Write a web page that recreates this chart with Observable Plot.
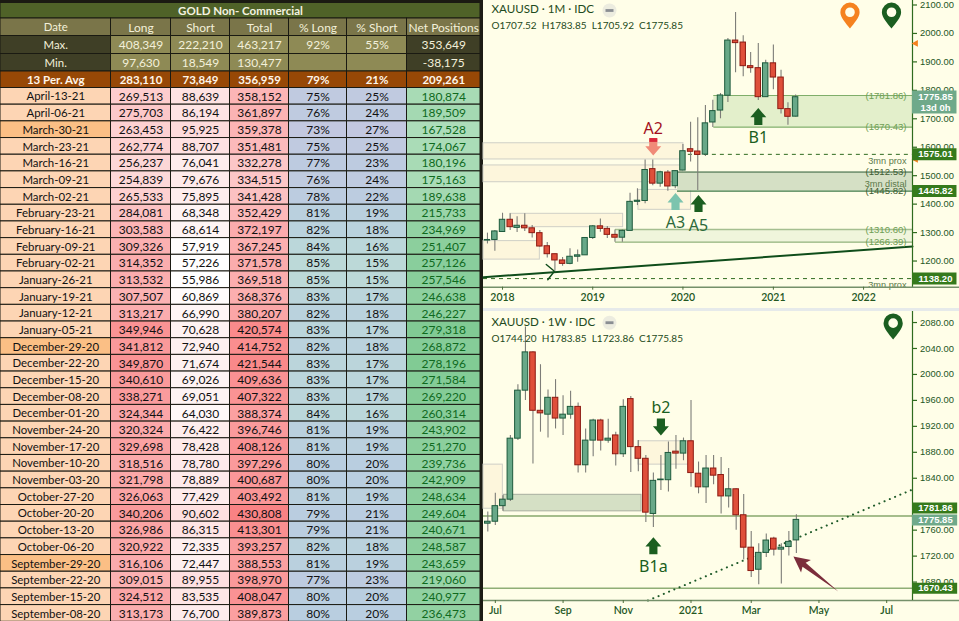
<!DOCTYPE html>
<html><head><meta charset="utf-8">
<script src="https://cdn.jsdelivr.net/npm/d3@7"></script>
<script src="https://cdn.jsdelivr.net/npm/@observablehq/plot@0.6"></script>
<style>
html,body{margin:0;padding:0;background:#fffee8;overflow:hidden;width:959px;height:621px}
.p{position:absolute}
.p svg{display:block}
</style></head><body>
<div id="table" class="p" style="left:0;top:0"></div>
<div class="p" style="left:480px;top:0;width:3px;height:621px;background:#1c1c14"></div>
<div id="monthly" class="p" style="left:483px;top:0"></div>
<div class="p" style="left:483px;top:308px;width:476px;height:3px;background:#e6eaea"></div>
<div id="weekly" class="p" style="left:483px;top:311px"></div>
<script>
// ---------- table data ----------
const tableTitle = "GOLD Non- Commercial";
const headers = ["Date","Long","Short","Total","% Long","% Short","Net Positions"];
const maxRow = ["Max.","408,349","222,210","463,217","92%","55%","353,649"];
const minRow = ["Min.","97,630","18,549","130,477","","","-38,175"];
const avgRow = ["13 Per. Avg","283,110","73,849","356,959","79%","21%","209,261"];
const dates = ["April-13-21","April-06-21","March-30-21","March-23-21","March-16-21","March-09-21","March-02-21","February-23-21","February-16-21","February-09-21","February-02-21","January-26-21","January-19-21","January-12-21","January-05-21","December-29-20","December-22-20","December-15-20","December-08-20","December-01-20","November-24-20","November-17-20","November-10-20","November-03-20","October-27-20","October-20-20","October-13-20","October-06-20","September-29-20","September-22-20","September-15-20","September-08-20"];
const longs = [269513,275703,263453,262774,256237,254839,265533,284081,303583,309326,314352,313532,307507,313217,349946,341812,349870,340610,338271,324344,320324,329698,318516,321798,326063,340206,326986,320922,316106,309015,324512,313173];
const shorts = [88639,86194,95925,88707,76041,79676,75895,68348,68614,57919,57226,55986,60869,66990,70628,72940,71674,69026,69051,64030,76422,78428,78780,78889,77429,90602,86315,72335,72447,89955,83535,76700];
const totals = [358152,361897,359378,351481,332278,334515,341428,352429,372197,367245,371578,369518,368376,380207,420574,414752,421544,409636,407322,388374,396746,408126,397296,400687,403492,430808,413301,393257,388553,398970,408047,389873];
const pctLong = [75,76,73,75,77,76,78,81,82,84,85,85,83,82,83,82,83,83,83,84,81,81,80,80,81,79,79,82,81,77,80,80];
const pctShort = [25,24,27,25,23,24,22,19,18,16,15,15,17,18,17,18,17,17,17,16,19,19,20,20,19,21,21,18,19,23,20,20];
const nets = [180874,189509,167528,174067,180196,175163,189638,215733,234969,251407,257126,257546,246638,246227,279318,268872,278196,271584,269220,260314,243902,251270,239736,242909,248634,249604,240671,248587,243659,219060,240977,236473];
const quarterEnds = ["March-30-21","December-29-20","September-29-20"];

// ---------- candles ----------
const monthlyDates = ["2017-11-01","2017-12-01","2018-01-01","2018-02-01","2018-03-01","2018-04-01","2018-05-01","2018-06-01","2018-07-01","2018-08-01","2018-09-01","2018-10-01","2018-11-01","2018-12-01","2019-01-01","2019-02-01","2019-03-01","2019-04-01","2019-05-01","2019-06-01","2019-07-01","2019-08-01","2019-09-01","2019-10-01","2019-11-01","2019-12-01","2020-01-01","2020-02-01","2020-03-01","2020-04-01","2020-05-01","2020-06-01","2020-07-01","2020-08-01","2020-09-01","2020-10-01","2020-11-01","2020-12-01","2021-01-01","2021-02-01","2021-03-01","2021-04-01"];
const monthlyOpen = [1272,1274,1302,1345,1316.5,1324,1315,1298,1252,1224,1202,1190,1215,1220,1281,1322,1313,1292,1282,1306,1408,1411,1523,1472,1511,1463,1518,1593,1585,1574,1687,1729,1781,1975,1968,1885,1878,1776,1895,1845,1734,1707.52];
const monthlyHigh = [1298,1307,1368,1366,1356,1366,1325,1307,1265,1224,1212,1243,1239,1282,1325,1348,1321,1309,1309,1438,1454,1555,1555,1516,1518,1518,1610,1688,1704,1747,1765,1789,1982,2074,1992,1933,1965,1906,1959,1871,1756,1783.85];
const monthlyLow = [1260,1234.5,1302,1307,1300,1304,1281,1248,1211,1164,1182,1187,1196,1220,1276,1301,1279,1266,1266,1306,1395,1401,1465,1459,1445,1454,1518,1548,1448,1567,1669,1700,1757,1862,1848,1860,1764,1775,1802,1717,1677,1705.92];
const monthlyClose = [1274,1304,1345,1319,1324,1315,1298,1251,1224,1202,1190,1215,1220,1281,1322,1313,1292,1282,1306,1408,1412,1520,1472,1512,1462,1516,1586,1584,1573,1684,1727,1782,1975,1966,1885,1878,1776,1895,1845,1734,1707,1775.85];

const weeklyDates = ["2020-06-29","2020-07-06","2020-07-13","2020-07-20","2020-07-27","2020-08-03","2020-08-10","2020-08-17","2020-08-24","2020-08-31","2020-09-07","2020-09-14","2020-09-21","2020-09-28","2020-10-05","2020-10-12","2020-10-19","2020-10-26","2020-11-02","2020-11-09","2020-11-16","2020-11-23","2020-11-30","2020-12-07","2020-12-14","2020-12-21","2020-12-28","2021-01-04","2021-01-11","2021-01-18","2021-01-25","2021-02-01","2021-02-08","2021-02-15","2021-02-22","2021-03-01","2021-03-08","2021-03-15","2021-03-22","2021-03-29","2021-04-05","2021-04-12"];
const weeklyOpen = [1770,1773,1797,1807,1901,1975,2034,1944,1938,1964,1932,1938,1950,1860,1898,1929,1898,1906,1877,1962,1888,1870,1785,1837,1837,1881,1878,1897,1847,1826,1855,1845,1812,1823,1783,1733,1699,1725,1747,1730,1734,1744.20];
const weeklyHigh = [1788,1817,1813,1906,1984,2073,2035,2015,1976,1992,1967,1974,1956,1916,1931,1931,1931,1911,1961,1966,1898,1875,1848,1875,1896,1906,1902,1960,1865,1875,1875,1872,1855,1824,1815,1758,1739,1754,1749,1739,1758,1783.85];
const weeklyLow = [1757,1767,1789,1804,1898,1960,1862,1911,1902,1916,1906,1931,1848,1848,1873,1882,1894,1859,1872,1849,1850,1772,1764,1821,1819,1854,1867,1826,1816,1801,1830,1785,1794,1760,1714,1687,1676,1718,1720,1677,1720,1723.86];
const weeklyClose = [1773,1797,1807,1901,1975,2034,1944,1940,1964,1932,1938,1950,1860,1898,1929,1898,1901,1877,1950,1888,1870,1787,1836,1838,1879,1878,1897,1848,1826,1855,1844,1812,1823,1783,1733,1697,1725,1744,1730,1733,1742,1775.85];

const monthlyPriceTicks = [1200,1300,1400,1500,1600,1700,1800,1900,2000,2100];
const weeklyPriceTicks = [1680,1720,1760,1840,1880,1920,1960,2000,2040,2080];
const monthlyTimeTicks = ["2018-01-01","2019-01-01","2020-01-01","2021-01-01","2022-01-01"];
const monthlyTimeLabels = ["2018","2019","2020","2021","2022"];
const weeklyTimeTicks = ["2020-07-06","2020-09-07","2020-11-02","2021-01-04","2021-03-01","2021-05-03","2021-07-05"];
const weeklyTimeLabels = ["Jul","Sep","Nov","2021","Mar","May","Jul"];

// ---------- palette ----------
const BG="#fffee8", GREEN_TXT="#24571f", AXIS="#2f6b1f", WICK="#7d7d78";
const UP="#68a888", UP_EDGE="#1d5a3c", DOWN="#df4f3a", DOWN_EDGE="#8c1a12";
const BEIGE="#fdf6dc", BEIGE_EDGE="#cfcfc6";
const TAG="#357a1c", TAG_NOW="#6fa98a";
const FONT="Lato, 'Liberation Sans', sans-serif";

// ---------- table ----------
const colWidths=[110.5,60,59,59,58,60,73.5];
const colEdges=d3.cumsum([0,...colWidths]);
const TOP=[[2.5,18],[18,35.5],[35.5,53.5],[53.5,71],[71,87.5]];
const ROW=16.68, ROW0=87.5;
const cells=[];
function add(col,y1,y2,text,fill,color,weight){cells.push({col,x1:colEdges[col],x2:colEdges[col+1],y1,y2,text,fill,color,weight:weight||400});}
cells.push({col:9,x1:0,x2:480,y1:TOP[0][0],y2:TOP[0][1],text:tableTitle,fill:"#4f6228",color:"#f4f2e0",weight:700});
headers.forEach((t,c)=>add(c,...TOP[1],t,"#7a7549","#f3f0da"));
const band=(c)=>(c===0||c===6)?"#3f3f26":"#8e8a55";
maxRow.forEach((t,c)=>add(c,...TOP[2],t,band(c),"#f3f0da"));
minRow.forEach((t,c)=>add(c,...TOP[3],t,band(c),"#f3f0da"));
avgRow.forEach((t,c)=>add(c,...TOP[4],t,"#974806","#fff6ea",700));
const redScale=(a,b)=>d3.scaleLinear().domain([a,b]).range(["#ffffff","#f8696b"]).clamp(true);
const cLong=redScale(200000,408349), cShort=redScale(55986,222210), cTotal=redScale(253000,467000);
const cPct=d3.scaleLinear().domain([73,80,85]).range(["#c3c8e0","#b9cee0","#bcd9d8"]).clamp(true);
const cNet=d3.scaleLinear().domain([-38175,353649]).range(["#ffffff","#63be7b"]);
const fmt=d3.format(",");
dates.forEach((d,i)=>{
  const y1=ROW0+i*ROW,y2=y1+ROW;
  add(0,y1,y2,d,quarterEnds.includes(d)?"#fbbf85":"#fdd5b4","#111");
  add(1,y1,y2,fmt(longs[i]),cLong(longs[i]),"#111");
  add(2,y1,y2,fmt(shorts[i]),cShort(shorts[i]),"#111");
  add(3,y1,y2,fmt(totals[i]),cTotal(totals[i]),"#111");
  add(4,y1,y2,pctLong[i]+"%",cPct(pctLong[i]),"#111");
  add(5,y1,y2,pctShort[i]+"%",cPct(pctLong[i]),"#111");
  add(6,y1,y2,fmt(nets[i]),cNet(nets[i]),"#0f6a1e");
});
document.getElementById("table").append(Plot.plot({
  width:480,height:621,margin:0,
  x:{domain:[0,480],range:[0,480],axis:null},
  y:{domain:[0,621],range:[0,621],axis:null},
  color:{type:"identity"},
  style:{background:"#1a1a12",fontFamily:FONT},
  marks:[
    Plot.rect(cells,{x1:"x1",x2:"x2",y1:"y1",y2:"y2",fill:"fill",stroke:"#1a1a12",strokeWidth:1}),
    Plot.text(cells.filter(c=>c.weight===400&&c.col!==0),{x:d=>(d.x1+d.x2)/2,y:d=>(d.y1+d.y2)/2+.5,text:"text",fill:"color",fontSize:12,fontWeight:400}),
    Plot.text(cells.filter(c=>c.weight===400&&c.col===0),{x:d=>(d.x1+d.x2)/2,y:d=>(d.y1+d.y2)/2+.5,text:"text",fill:"color",fontSize:11.4,fontWeight:400}),
    Plot.text(cells.filter(c=>c.weight===700),{x:d=>(d.x1+d.x2)/2,y:d=>(d.y1+d.y2)/2+.5,text:"text",fill:"color",fontSize:11.5,fontWeight:700})
  ]
}));

// ---------- chart helpers ----------
const D=s=>new Date(s+"T00:00:00Z");
const addDays=(d,n)=>new Date(+d+n*864e5);
const blockArrow={draw(c,l){const h=l/2,w=l*.47,s=l*.24,n=l*.05;c.moveTo(0,-h);c.lineTo(w,n);c.lineTo(s,n);c.lineTo(s,h);c.lineTo(-s,h);c.lineTo(-s,n);c.lineTo(-w,n);c.closePath();}};
const pin={draw(c,l){const r=l*.37,cy=-l+r;c.moveTo(0,0);c.bezierCurveTo(-r*.45,-l*.22,-r,cy+r*.55,-r,cy);c.arc(0,cy,r,Math.PI,0);c.bezierCurveTo(r,cy+r*.55,r*.45,-l*.22,0,0);c.closePath();c.moveTo(r*.5,cy);c.arc(0,cy,r*.5,0,-2*Math.PI,true);c.closePath();}};
const taper={draw(c,l){const head=l*.28,w=l*.14;c.moveTo(0,-l);c.lineTo(w,-l+head);c.lineTo(l*.045,-l+head*.85);c.lineTo(0,0);c.lineTo(-l*.045,-l+head*.85);c.lineTo(-w,-l+head);c.closePath();}};
const flag={draw(c,l){c.moveTo(-l,0);c.lineTo(l*.6,-l*.85);c.lineTo(l*.6,l*.85);c.closePath();}};
const bar={draw(c,l){c.rect(-l/2,-1.4,l,2.8);}};
const arrow=(date,price,color,rot=0,len=17)=>Plot.vector([{date:D(date),price}],{x:"date",y:"price",anchor:"start",length:len,rotate:rot,shape:blockArrow,fill:color,stroke:"none"});
const pinMark=(date,price,color,len=26)=>Plot.vector([{date:D(date),price}],{x:"date",y:"price",anchor:"start",length:len,rotate:0,shape:pin,fill:color,stroke:"none"});
const label=(date,price,text,color,size=16)=>Plot.text([{date:D(date),price,text}],{x:"date",y:"price",text:"text",fill:color,fontSize:size,fontFamily:"'Noto Sans',sans-serif"});
function zone(x1,x2,top,bot,fill,stroke){return Plot.rect([{x1,x2,top,bot}],{x1:"x1",x2:"x2",y1:"bot",y2:"top",fill,stroke,strokeWidth:1});}
function level(x1,x2,price,stroke,width=1,dash=null){return Plot.ruleY([{x1,x2,price}],{x1:"x1",x2:"x2",y:"price",stroke,strokeWidth:width,strokeDasharray:dash});}
function candles(ds,O,H,L,C,halfDays){
  const rows=ds.map((d,i)=>({date:D(d),o:O[i],h:H[i],l:L[i],c:C[i],up:C[i]>=O[i]}));
  const body=rows.map(r=>({...r,x1:addDays(r.date,-halfDays),x2:addDays(r.date,halfDays),y1:Math.min(r.o,r.c),y2:Math.max(r.o,r.c)}));
  return [
    Plot.ruleX(rows,{x:"date",y1:"l",y2:"h",stroke:WICK,strokeWidth:1.1}),
    Plot.rect(body.filter(b=>b.up),{x1:"x1",x2:"x2",y1:"y1",y2:"y2",fill:UP,stroke:UP_EDGE,strokeWidth:1}),
    Plot.rect(body.filter(b=>!b.up),{x1:"x1",x2:"x2",y1:"y1",y2:"y2",fill:DOWN,stroke:DOWN_EDGE,strokeWidth:1})
  ];
}
const tagFont="'Liberation Sans',sans-serif";
function tag(x,xEnd,price,text,fill,dy=0,h=12){return [
  Plot.ruleY([{x,xEnd,price}],{x1:"x",x2:"xEnd",y:"price",stroke:fill,strokeWidth:h,dy}),
  Plot.text([{x,price,text}],{x:"x",y:"price",text:"text",dx:23,dy,fill:"#fff",fontSize:9.5,fontWeight:600,fontFamily:tagFont})
];}
function header(title,ohlc,shift=0){return [
  Plot.text([title],{frameAnchor:"top-left",lineAnchor:"top",dx:8,dy:4.5+shift,text:d=>d,fill:"#1e4a20",fontSize:11.6,fontFamily:FONT,style:"letter-spacing:.1px"}),
  Plot.text([ohlc],{frameAnchor:"top-left",lineAnchor:"top",dx:8,dy:21.5+shift,text:d=>d,fill:"#1e4a20",fontSize:10,fontFamily:FONT,style:"letter-spacing:.3px"}),
  Plot.dot([title],{frameAnchor:"top-left",dx:126,dy:10+shift*.8,r:7,fill:"#ececdf",stroke:"none"}),
  Plot.vector([title],{frameAnchor:"top-left",dx:126,dy:10+shift*.8,length:8,rotate:0,anchor:"start",shape:bar,fill:"#8a8e92",stroke:"none"})
];}
function priceAxis(ticks){return Plot.axisY({anchor:"right",ticks,tickFormat:d=>d.toFixed(2),tickSize:4,tickPadding:3.5,label:null,stroke:AXIS,fill:GREEN_TXT,fontSize:9.4,strokeWidth:1.2,fontFamily:tagFont});}
function timeAxis(ticks,labels){const m=new Map(ticks.map((t,i)=>[+D(t),labels[i]]));return Plot.axisX({ticks:ticks.map(D),tickFormat:d=>m.get(+d),tickSize:3,tickPadding:3,label:null,stroke:"#4d6d3a",fill:GREEN_TXT,fontSize:10.5,fontWeight:600,fontFamily:FONT});}

// ---------- monthly chart ----------
const mStart=D("2017-10-16"), mEnd=D("2022-07-18"), mBeyond=addDays(mEnd,180), LAB_M=D("2022-06-24");
const mLight="#6f9f55", mDark="#3f5e33";
const monthlyLevels=[[1781.86,mLight],[1670.43,mLight],[1512.53,mDark],[1445.82,mDark],[1310.60,mLight],[1266.39,mLight]];
const mChart=Plot.plot({
  width:476,height:308,marginLeft:0,marginRight:47,marginTop:0,marginBottom:21.3,
  x:{type:"utc",domain:[mStart,mEnd],axis:null},
  y:{domain:[1108,2115.8],axis:null},
  style:{background:BG,fontFamily:FONT,overflow:"visible"},
  marks:[
    zone(mStart,D("2020-01-03"),1614,1557,BEIGE,BEIGE_EDGE),
    zone(mStart,D("2020-01-01"),1536,1477,BEIGE,BEIGE_EDGE),
    zone(D("2018-02-02"),D("2019-05-04"),1366,1319,BEIGE,BEIGE_EDGE),
    zone(mStart,D("2018-06-01"),1270,1205,BEIGE,BEIGE_EDGE),
    zone(D("2019-07-05"),D("2020-02-03"),1450,1380,BEIGE,BEIGE_EDGE),
    zone(D("2019-12-10"),mEnd,1512.53,1445.82,"#d5e0c5","none"),
    zone(D("2019-04-03"),mEnd,1310.60,1266.39,"#f0f5dc","none"),
    zone(D("2020-05-05"),mEnd,1781.86,1670.43,"#e3efcb","none"),
    level(D("2020-05-05"),mEnd,1781.86,"#7fae6a",1.2),
    level(D("2020-05-05"),mEnd,1670.43,"#7fae6a",1.2),
    level(D("2019-12-10"),mEnd,1512.53,"#7d9a7a",1.8),
    level(D("2019-12-10"),mEnd,1445.82,"#3f7a4a",1.4),
    level(D("2019-04-03"),mEnd,1310.60,"#a5bf90",1.5),
    level(D("2019-04-03"),mEnd,1266.39,"#8fb07a",1.2),
    level(D("2020-01-23"),mEnd,1575.01,"#2f6b1f",1,"4,4"),
    level(mStart,mEnd,1138.20,"#2f6b1f",1,"4,4"),
    Plot.line([{d:mStart,p:1143},{d:mEnd,p:1251}],{x:"d",y:"p",stroke:"#0f4d1a",strokeWidth:2}),
    Plot.line([{d:D("2018-06-27"),p:1187.6},{d:D("2018-07-30"),p:1164},{d:D("2018-07-03"),p:1134}],{x:"d",y:"p",stroke:"#0f4d1a",strokeWidth:1.4,curve:"linear"}),
    ...candles(monthlyDates,monthlyOpen,monthlyHigh,monthlyLow,monthlyClose,11),
    label("2019-09-03",1666,"A2","#a3101c"),
    arrow("2019-09-03",1600.7,"#f08a78",180),
    Plot.ruleX([{d:D("2019-09-03"),a:1617,b:1630.6}],{x:"d",y1:"a",y2:"b",stroke:"#d9283a",strokeWidth:8}),
    label("2019-12-02",1333,"A3","#2d6a3a"),
    arrow("2019-12-02",1409,"#7cc4ae"),
    label("2020-03-04",1325,"A5","#2d6a3a"),
    arrow("2020-03-04",1402,"#1b5e20"),
    label("2020-11-01",1634,"B1","#1b5e20"),
    arrow("2020-11-01",1708,"#1b5e20"),
    pinMark("2021-11-07",2017,"#f5821f"),
    pinMark("2022-04-24",2017,"#1b5e20"),
    Plot.text(monthlyLevels,{x:()=>LAB_M,y:d=>d[0],text:d=>"("+d[0].toFixed(2)+")",fill:d=>d[1],textAnchor:"end",fontSize:9.6,fontFamily:tagFont}),
    Plot.text([{p:1550,t:"3mn prox"},{p:1472,t:"3mn distal"},{p:1114,t:"3mn prox"}],{x:()=>LAB_M,y:"p",text:"t",textAnchor:"end",fill:"#5c7a4a",fontSize:9.2,fontFamily:tagFont}),
    ...header("XAUUSD · 1M · IDC","O1707.52  H1783.85  L1705.92  C1775.85"),
    Plot.ruleY([{x1:mStart,x2:addDays(mBeyond,20),p:1108}],{x1:"x1",x2:"x2",y:"p",stroke:"#75906a",strokeWidth:1.5}),
    Plot.ruleX([mEnd],{stroke:AXIS,strokeWidth:1.2}),
    priceAxis(monthlyPriceTicks),
    timeAxis(monthlyTimeTicks,monthlyTimeLabels),
    Plot.vector([{d:mEnd,p:1965},{d:mEnd,p:1557}],{x:"d",y:"p",length:4,anchor:"start",shape:flag,fill:"#f5821f",stroke:"none",dx:3}),
    Plot.ruleY([{x:mEnd,xEnd:mBeyond,p:1759}],{x1:"x",x2:"xEnd",y:"p",stroke:TAG_NOW,strokeWidth:23}),
    Plot.text([{x:mEnd,p:1775.85,t:"1775.85"},{x:mEnd,p:1738,t:"13d 0h"}],{x:"x",y:"p",text:"t",dx:23,fill:"#fff",fontSize:9.5,fontWeight:600,fontFamily:tagFont}),
    ...tag(mEnd,mBeyond,1575.01,"1575.01",TAG),
    ...tag(mEnd,mBeyond,1445.82,"1445.82",TAG),
    ...tag(mEnd,mBeyond,1138.20,"1138.20",TAG)
  ]
});
document.getElementById("monthly").append(mChart);

// ---------- weekly chart ----------
const wStart=D("2020-06-25"), wEnd=D("2021-07-29"), wBeyond=addDays(wEnd,42);
const wChart=Plot.plot({
  width:476,height:310,marginLeft:0,marginRight:47,marginTop:0,marginBottom:21,
  x:{type:"utc",domain:[wStart,wEnd],axis:null},
  y:{domain:[1651.6,2097],axis:null},
  style:{background:BG,fontFamily:FONT,overflow:"visible"},
  marks:[
    zone(wStart,D("2020-07-13"),1861,1793,BEIGE,BEIGE_EDGE),
    zone(D("2020-11-16"),D("2021-01-04"),1897,1861,BEIGE,BEIGE_EDGE),
    zone(D("2020-07-14"),D("2020-11-19"),1814.5,1789,"#d5e0c5","#a9aea0"),
    level(wStart,wEnd,1781.86,"#4d7c2e",1.2),
    level(wStart,wEnd,1670.43,"#8fae76",1.6),
    Plot.line([{d:D("2020-11-25"),p:1651.6},{d:wEnd,p:1822.6}],{x:"d",y:"p",stroke:"#1d5a28",strokeWidth:2,strokeDasharray:"0.1,5.6",strokeLinecap:"round"}),
    ...candles(weeklyDates,weeklyOpen,weeklyHigh,weeklyLow,weeklyClose,2.6),
    label("2020-12-07",1949,"b2","#1b5e20"),
    arrow("2020-12-07",1919,"#1b5e20",180),
    label("2020-11-30",1703,"B1a","#1b5e20"),
    arrow("2020-11-30",1736,"#1b5e20"),
    Plot.vector([{d:D("2021-05-21"),p:1665.5}],{x:"d",y:"p",anchor:"start",length:57,rotate:-52,shape:taper,fill:"#7b2d3b",stroke:"none"}),
    pinMark("2021-07-11",2053.8,"#1b5e20"),
    ...header("XAUUSD · 1W · IDC","O1744.20  H1783.85  L1723.86  C1775.85",1.5),
    Plot.ruleY([{x1:wStart,x2:addDays(wBeyond,5),p:1651.6}],{x1:"x1",x2:"x2",y:"p",stroke:"#75906a",strokeWidth:1.5}),
    Plot.ruleX([wEnd],{stroke:AXIS,strokeWidth:1.2}),
    priceAxis(weeklyPriceTicks),
    timeAxis(weeklyTimeTicks,weeklyTimeLabels),
    ...tag(wEnd,wBeyond,1781.86,"1781.86",TAG,-8,11),
    ...tag(wEnd,wBeyond,1775.85,"1775.85",TAG_NOW,0,11),
    ...tag(wEnd,wBeyond,1670.43,"1670.43",TAG,0,11)
  ]
});
document.getElementById("weekly").append(wChart);
</script>
</body></html>
